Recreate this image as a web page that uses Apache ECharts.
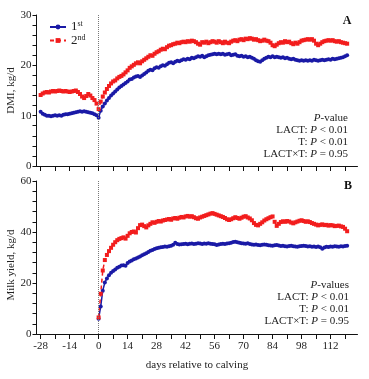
<!DOCTYPE html>
<html>
<head>
<meta charset="utf-8">
<script src="https://cdn.jsdelivr.net/npm/echarts@6/dist/echarts.min.js"></script>
<style>
html,body{margin:0;padding:0;background:#fff;}
#c{width:369px;height:379px;}
</style>
</head>
<body>
<div id="c"></div>
<script>
// ---- data ----
var dmiFirstDay = -28;   // first day of DMI records
var milkFirstDay = 0;    // first day of milk records
var xTickValues = [-28,-21,-14,-7,0,7,14,21,28,35,42,49,56,63,70,77,84,91,98,105,112,119];
var xLabelValues = [-28,-14,0,14,28,42,56,70,84,98,112];

var dmi1st = [
 10.8,10.4,10.2,10.0,10.0,9.9,10.0,10.1,10.0,10.1,10.0,10.2,10.3,10.3,10.4,10.5,10.6,10.7,10.8,10.9,10.8,10.9,10.8,10.7,10.6,10.5,10.3,10.1,
 9.6,
 11.0,11.8,12.4,13.0,13.5,14.0,14.4,14.8,15.2,15.6,15.9,16.2,16.5,16.8,17.2,17.3,17.6,17.8,17.9,17.7,
 18.0,18.3,18.6,18.9,19.1,19.0,19.4,19.6,19.5,19.8,20.0,19.9,20.2,20.5,20.6,20.4,20.7,20.9,20.8,21.0,
 21.2,21.1,21.3,21.2,21.5,21.4,21.6,21.8,21.7,21.9,21.6,21.8,22.0,22.1,22.2,22.3,22.2,22.3,22.2,22.3,
 22.1,22.2,22.3,22.0,22.1,22.2,21.9,21.8,21.9,21.7,21.8,21.6,21.7,21.5,21.3,21.0,20.8,20.7,21.0,21.3,
 21.5,21.7,21.6,21.8,21.6,21.7,21.6,21.5,21.6,21.4,21.5,21.3,21.2,21.3,21.1,21.0,20.9,21.0,20.9,21.0,
 20.9,21.0,20.9,21.1,21.0,20.9,21.0,21.1,21.0,21.1,21.2,21.1,21.3,21.2,21.3,21.4,21.5,21.6,21.8,22.0
];
var dmi2nd = [
 14.1,14.4,14.6,14.7,14.6,14.8,14.9,14.8,14.9,15.0,14.9,14.8,14.9,14.8,14.7,14.8,14.9,15.0,14.7,14.3,13.8,13.5,13.9,14.3,14.0,13.5,13.1,12.4,
 11.3,
 12.8,13.8,14.6,15.3,15.9,16.4,16.8,17.0,17.4,17.7,17.9,18.2,18.6,19.0,19.5,19.8,20.1,20.4,20.6,20.4,
 20.8,21.1,21.4,21.7,22.0,21.9,22.3,22.6,22.8,23.1,23.3,23.2,23.6,23.9,24.0,24.2,24.3,24.5,24.4,24.6,
 24.7,24.6,24.8,24.7,24.9,24.8,24.6,24.3,24.1,24.6,24.5,24.7,24.4,24.6,24.8,24.7,24.5,24.8,24.6,24.4,
 24.7,24.5,24.4,24.7,24.9,25.0,24.8,25.1,25.2,25.0,25.3,25.2,25.4,25.3,25.1,25.2,25.0,24.8,24.9,25.1,
 24.9,24.8,24.5,24.0,23.8,24.1,24.4,24.6,24.5,24.8,24.6,24.7,24.4,24.2,24.5,24.3,24.6,24.9,25.0,25.1,
 25.2,25.1,25.2,24.9,24.3,24.0,24.3,24.6,24.8,24.9,25.0,24.9,25.0,24.8,24.7,24.8,24.6,24.5,24.4,24.3
];
var milk1st = [
 6.0,10.8,17.0,20.2,21.8,23.0,24.0,24.7,25.3,26.0,26.4,26.9,27.0,26.8,27.8,28.4,28.8,29.3,29.6,30.0,
 30.4,30.9,31.3,31.7,32.2,32.6,32.9,33.3,33.6,33.8,34.0,34.1,34.3,34.2,34.4,34.6,35.0,35.8,35.3,35.1,
 35.2,35.3,35.4,35.2,35.4,35.5,35.3,35.4,35.6,35.5,35.3,35.5,35.4,35.6,35.4,35.3,35.2,34.9,35.1,35.3,
 35.4,35.3,35.5,35.6,35.8,36.1,36.2,36.0,35.8,35.6,35.5,35.4,35.6,35.3,35.1,35.0,35.1,34.9,34.8,35.0,
 35.1,35.0,34.8,34.7,34.6,34.8,34.9,34.7,34.5,34.6,34.4,34.3,34.5,34.6,34.4,34.3,34.2,34.4,34.5,34.6,
 34.5,34.3,34.4,34.2,34.3,34.1,34.3,34.0,33.4,33.9,34.2,34.1,34.3,34.2,34.4,34.3,34.2,34.4,34.3,34.5,
 34.6
];
var milk2nd = [
 6.5,15.8,24.9,29.0,31.0,32.5,33.8,35.0,36.0,36.8,37.3,37.6,37.9,37.4,38.5,39.5,40.0,40.2,39.8,41.5,
 42.7,42.9,42.3,41.8,42.6,43.2,43.8,43.6,44.0,44.3,44.1,44.5,44.7,44.9,45.1,44.8,45.3,45.5,45.2,45.6,
 45.9,45.7,46.1,46.3,46.0,46.2,45.8,45.4,45.2,45.7,46.0,46.3,46.6,46.9,47.2,47.4,47.1,46.8,46.5,46.2,
 45.9,45.5,45.0,44.7,45.0,45.4,45.8,45.5,45.2,45.6,46.0,46.2,45.7,45.3,44.6,43.5,42.8,42.6,43.2,43.8,
 44.5,45.0,45.4,45.8,46.1,44.0,42.4,43.2,43.9,44.2,44.0,44.3,44.1,43.7,43.4,43.8,44.1,44.4,44.6,44.3,
 44.0,44.2,43.9,43.5,43.2,42.9,42.6,42.8,43.0,42.7,42.8,42.5,42.7,42.6,42.3,42.4,42.5,42.2,42.0,41.3,
 40.3
];

// ---- chart ----
var FONT = "'Liberation Serif','Times New Roman',serif";
var BLUE = '#1a1aa6';
var RED = '#f21d1d';
var TXT = '#222';

function pairs(start, vals){ return vals.map(function(v,i){ return [start+i, v]; }); }

function xAxisCfg(gridIndex, showLabels){
  return {
    type:'value', gridIndex:gridIndex, min:-30, max:125,
    axisLine:{show:true, onZero:false, lineStyle:{color:'#111', width:1}},
    axisTick:{show:true, inside:false, length:5, customValues:xTickValues, lineStyle:{color:'#111'}},
    axisLabel:{show:showLabels, customValues:xLabelValues, margin:7, color:TXT, fontFamily:FONT, fontSize:11},
    splitLine:{show:false},
    name: showLabels ? 'days relative to calving' : '',
    nameLocation:'middle', nameGap:26, nameMoveOverlap:false,
    nameTextStyle:{color:TXT, fontFamily:FONT, fontSize:11}
  };
}
function yAxisCfg(gridIndex, max, interval, name, pad){
  return {
    type:'value', gridIndex:gridIndex, min:0, max:max, interval:interval,
    axisLine:{show:true, onZero:false, lineStyle:{color:'#111', width:1}},
    axisTick:{show:true, inside:false, length:4, lineStyle:{color:'#111'}},
    minorTick:{show:true, splitNumber:5, length:4, lineStyle:{color:'#111'}},
    axisLabel:{margin:5, color:TXT, fontFamily:FONT, fontSize:11},
    splitLine:{show:false},
    name:name, nameLocation:'middle', nameGap:20, nameMoveOverlap:false,
    nameTextStyle:{color:TXT, fontFamily:FONT, fontSize:11, padding:pad}
  };
}
var vline = {
  silent:true, symbol:'none', label:{show:false},
  lineStyle:{type:'dotted', color:'#777', width:1},
  data:[{xAxis:0}]
};
function lineSeries(name, xi, start, vals, color, dashed, sym, withMark){
  var s = {
    name:name, type:'line', xAxisIndex:xi, yAxisIndex:xi,
    data:pairs(start, vals),
    symbol:sym, symbolSize:4, showSymbol:true,
    itemStyle:{color:color},
    lineStyle:{color:color, width:1.5, type: dashed ? [4,3] : 'solid'},
    animation:false, z:3
  };
  if (withMark) s.markLine = vline;
  return s;
}

var pTextRich = {
  i:{fontStyle:'italic', fontFamily:FONT, fontSize:11, fill:TXT}
};
function pText(x, y, lines){
  return lines.map(function(t, k){
    return {type:'text', x:x, y:y + k*12, style:{text:t, textAlign:'right', textVerticalAlign:'middle',
      fontFamily:FONT, fontSize:11, fill:TXT, rich:pTextRich}};
  });
}

var option = {
  backgroundColor:'#fff',
  animation:false,
  grid:[
    {left:36.5, top:15, width:321, height:151, outerBoundsMode:'none', containLabel:false},
    {left:36.5, top:181, width:321, height:153, outerBoundsMode:'none', containLabel:false}
  ],
  legend:{
    left:44, top:15, orient:'vertical', itemWidth:16, itemHeight:6, itemGap:0,
    data:['1st','2nd'],
    textStyle:{color:TXT, fontFamily:FONT, fontSize:13,
      rich:{b:{fontFamily:FONT, fontSize:13, color:TXT}, s:{fontFamily:FONT, fontSize:8, color:TXT, verticalAlign:'top', padding:[0,0,6,0]}}},
    formatter:function(n){ return n === '1st' ? '{b|1}{s|st}' : '{b|2}{s|nd}'; }
  },
  xAxis:[xAxisCfg(0,false), xAxisCfg(1,true)],
  yAxis:[yAxisCfg(0,30,10,'DMI, kg/d',[0,0,0,0]), yAxisCfg(1,60,20,'Milk yield, kg/d',[0,15,0,0])],
  series:[
    lineSeries('1st',0,dmiFirstDay,dmi1st,BLUE,false,'circle',true),
    lineSeries('2nd',0,dmiFirstDay,dmi2nd,RED,true,'rect',false),
    lineSeries('1st',1,milkFirstDay,milk1st,BLUE,false,'circle',true),
    lineSeries('2nd',1,milkFirstDay,milk2nd,RED,true,'rect',false)
  ],
  graphic: [
    {type:'text', x:347, y:21, style:{text:'A', textAlign:'center', textVerticalAlign:'middle', fontFamily:FONT, fontSize:12, fontWeight:'bold', fill:'#111'}},
    {type:'text', x:348, y:186, style:{text:'B', textAlign:'center', textVerticalAlign:'middle', fontFamily:FONT, fontSize:12, fontWeight:'bold', fill:'#111'}}
  ].concat(
    pText(348, 118, ['{i|P}-value', 'LACT: {i|P} < 0.01', 'T: {i|P} < 0.01', 'LACT×T: {i|P} = 0.95']),
    pText(349, 285, ['{i|P}-values', 'LACT: {i|P} < 0.01', 'T: {i|P} < 0.01', 'LACT×T: {i|P} = 0.95'])
  )
};
var chart = echarts.init(document.getElementById('c'), null, {renderer:'canvas'});
chart.setOption(option);
</script>
</body>
</html>
